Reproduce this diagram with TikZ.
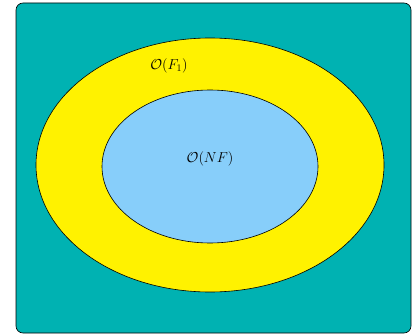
\documentclass[tikz,border=0pt]{standalone}
\usetikzlibrary{shapes.geometric}
\begin{document}
\begin{tikzpicture}[x=1pt,y=-1pt,
  region/.style={draw=black, line width=0.6pt},
  lbl/.style={font=\fontsize{14.4}{17}\selectfont}]
\definecolor{tealbg}{RGB}{0,178,178}
\definecolor{skyfill}{RGB}{135,206,250}
\useasboundingbox (0,0) rectangle (417,334);
\node[region, fill=tealbg, rounded corners=7pt, minimum width=395pt, minimum height=330pt, inner sep=0pt] (box) at (213.5,168) {};
\node[region, fill=yellow, ellipse, minimum width=348pt, minimum height=254pt, inner sep=0pt] (outer) at (210,165) {};
\node[region, fill=skyfill, ellipse, minimum width=216pt, minimum height=153pt, inner sep=0pt] (inner) at (210,166.5) {};
\node[lbl] (lf) at (169,66) {$\mathcal{O}(F_1)$};
\node[lbl] (lnf) at (210,159) {$\mathcal{O}(NF)$};
\end{tikzpicture}
\end{document}
